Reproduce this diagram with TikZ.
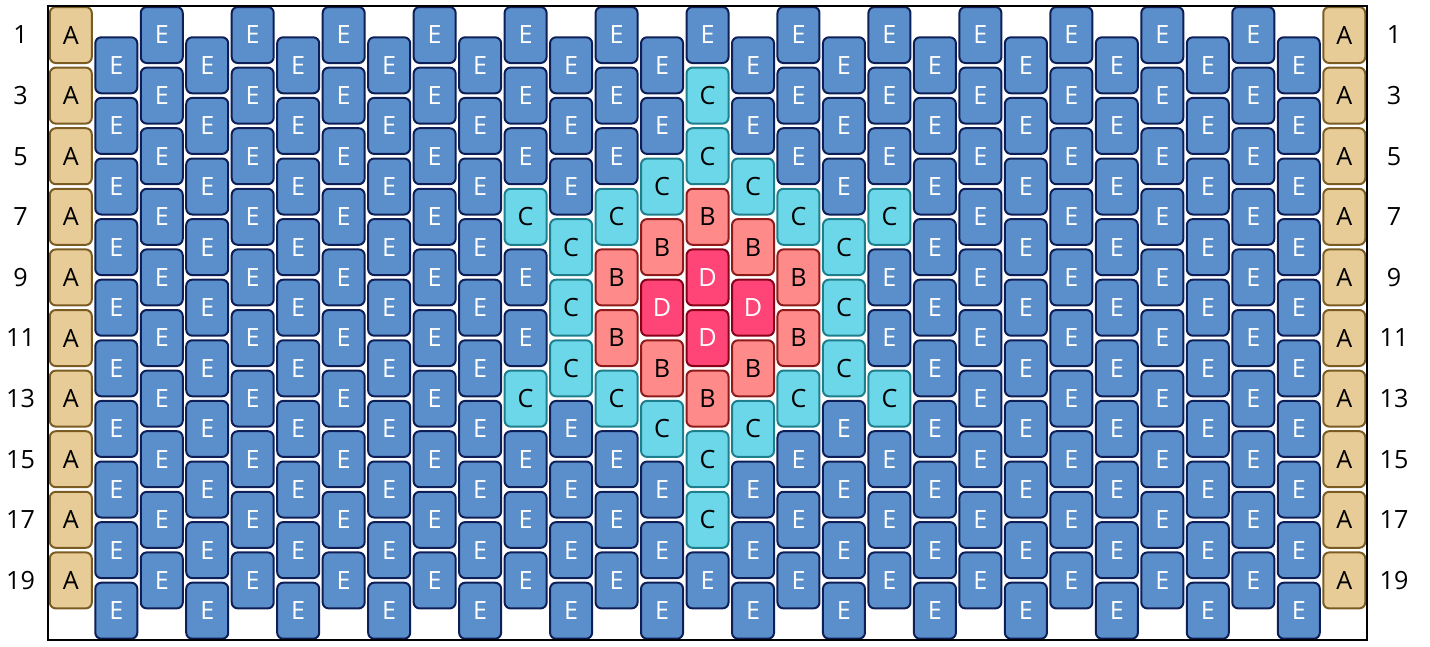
\documentclass[tikz,border=0pt]{standalone}
\usepackage{fontspec}
\setmainfont{Open Sans}
\usepackage{tikz}
\usetikzlibrary{positioning}

\definecolor{Afill}{HTML}{E8CC98}
\definecolor{Aline}{HTML}{7A5B22}
\definecolor{Atext}{HTML}{000000}
\definecolor{Bfill}{HTML}{FF8A8A}
\definecolor{Bline}{HTML}{8E1A1A}
\definecolor{Btext}{HTML}{000000}
\definecolor{Cfill}{HTML}{6DD7EA}
\definecolor{Cline}{HTML}{1E7F8C}
\definecolor{Ctext}{HTML}{000000}
\definecolor{Dfill}{HTML}{FF4478}
\definecolor{Dline}{HTML}{880018}
\definecolor{Dtext}{HTML}{FFFFFF}
\definecolor{Efill}{HTML}{5B8FCB}
\definecolor{Eline}{HTML}{0E1E56}
\definecolor{Etext}{HTML}{FFFFFF}

\newcommand{\gridfont}{\fontsize{14.3}{17}\selectfont}

\begin{document}
\begin{tikzpicture}[
  tile/.style={draw=#1line, fill=#1fill, text=#1text, rounded corners=0.12cm,
    line width=0.04cm, minimum width=0.84cm, minimum height=1.12cm,
    inner sep=0pt, font=\gridfont},
  rowlabel/.style={inner sep=0pt, font=\gridfont}
]
  \useasboundingbox (0,0) rectangle (28.6,-12.92);

  % which tiles are not E
  \foreach \r in {1,3,...,19} {
    \expandafter\xdef\csname kind-0-\r\endcsname{A}
    \expandafter\xdef\csname kind-28-\r\endcsname{A}
  }
  \foreach \i/\r/\k in {14/3/C, 14/5/C, 14/7/B, 14/9/D, 14/11/D, 14/13/B, 14/15/C, 14/17/C,
      13/6/C, 13/8/B, 13/10/D, 13/12/B, 13/14/C,
      15/6/C, 15/8/B, 15/10/D, 15/12/B, 15/14/C,
      12/7/C, 12/9/B, 12/11/B, 12/13/C,
      16/7/C, 16/9/B, 16/11/B, 16/13/C,
      11/8/C, 11/10/C, 11/12/C,
      17/8/C, 17/10/C, 17/12/C,
      10/7/C, 10/13/C, 18/7/C, 18/13/C}
    {\expandafter\xdef\csname kind-\i-\r\endcsname{\k}}

  % the tiles, column by column
  \foreach \i in {0,...,28} {
    \pgfmathtruncatemacro\off{mod(\i,2)}
    \foreach \j in {0,...,9} {
      \pgfmathtruncatemacro\r{2*\j+1+\off}
      \ifcsname kind-\i-\r\endcsname
        \edef\kind{\csname kind-\i-\r\endcsname}
      \else
        \def\kind{E}
      \fi
      \node[tile=\kind] (c-\i-\r) at (1.416+\i*0.9096, -0.70-\r*0.606+0.606) {\kind};
    }
  }

  % row numbers
  \foreach \r in {1,3,...,19} {
    \node[rowlabel] (left-\r) at (0.41, -0.70-\r*0.606+0.606) {\r};
    \node[rowlabel] (right-\r) at (27.88, -0.70-\r*0.606+0.606) {\r};
  }

  \draw[line width=0.04cm] (0.966,-0.11) rectangle (27.33,-12.8);
\end{tikzpicture}
\end{document}
